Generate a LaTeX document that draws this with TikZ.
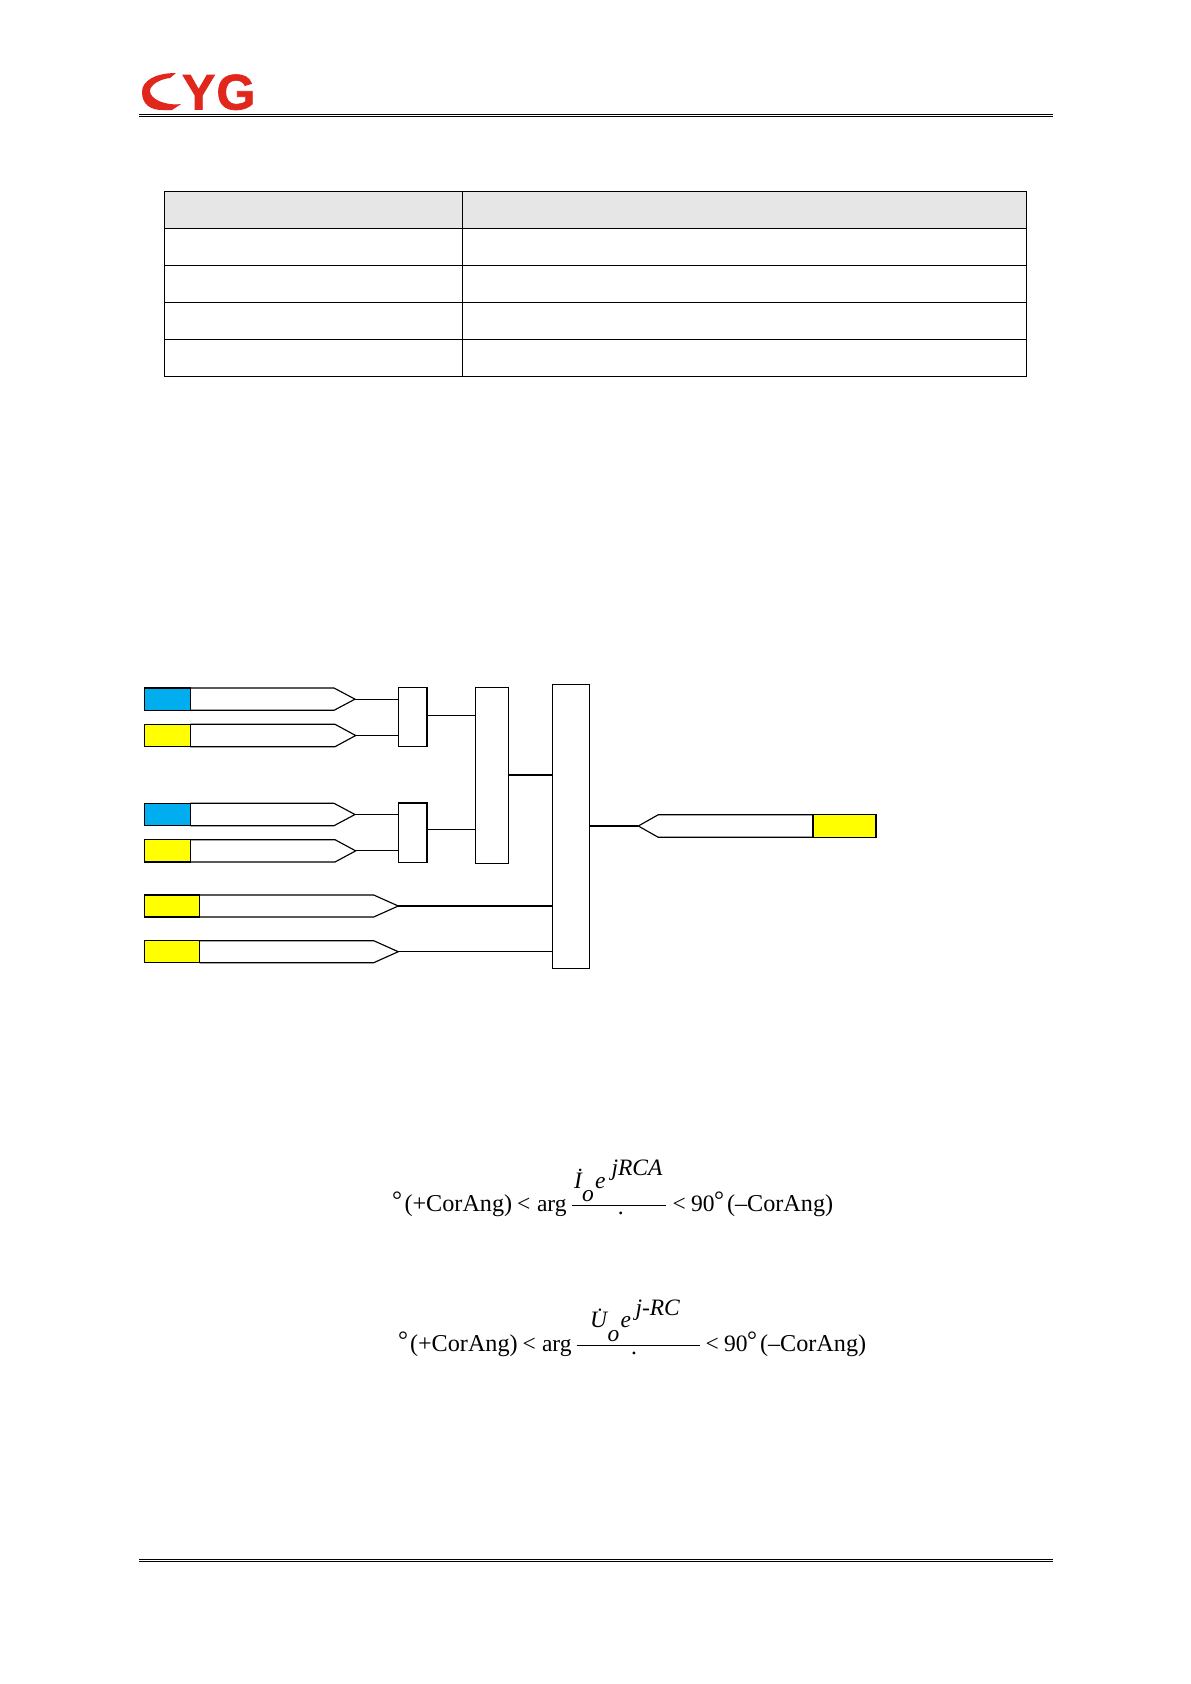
\documentclass[tikz,border=0pt]{standalone}
\usepackage{fontspec}
\setmainfont{Liberation Serif}
\newfontfamily\logofont[BoldFeatures={FakeBold=1.5}]{Liberation Sans}
\definecolor{cygred}{HTML}{E1271C}
\definecolor{cygblue}{HTML}{00AEEF}
\definecolor{cygyellow}{HTML}{FFFF00}
\definecolor{headgray}{HTML}{E6E6E6}
\tikzset{
  ln/.style={line width=1.15pt,draw=black},
  colbox/.style={ln,inner sep=0pt,outer sep=0pt,anchor=north west},
  gatebox/.style={ln,fill=white,inner sep=0pt,outer sep=0pt,anchor=north west},
  frm/.style={inner sep=0pt,outer sep=0pt,anchor=base west,font=\fontsize{23.5}{28}\selectfont},
  frmb/.style={inner sep=0pt,outer sep=0pt,anchor=base west,font=\fontsize{24.2}{28}\selectfont},
  deg/.style={inner sep=0pt,outer sep=0pt,anchor=base west,font=\fontsize{25}{28}\selectfont},
  frmc/.style={inner sep=0pt,outer sep=0pt,anchor=base,font=\fontsize{23.5}{28}\selectfont},
  logo/.style={inner sep=0pt,outer sep=0pt,anchor=base west,text=cygred,font=\logofont\bfseries\fontsize{50}{50}\selectfont}
}
% name, colour, x-left, x-colour-end, x-shaft-end, x-tip, y-top, y-bottom
\newcommand{\sigright}[8]{%
  \pgfmathsetmacro{\hw}{#4-#3}\pgfmathsetmacro{\hh}{#8-#7}\pgfmathsetmacro{\ym}{(#7+#8)/2}%
  \draw[ln,fill=white] (#4,#7) -- (#5,#7) -- (#6,\ym) -- (#5,#8) -- (#4,#8);
  \coordinate (#1tip) at (#6,\ym);
  \node[colbox,fill=#2,minimum width=\hw pt,minimum height=\hh pt] (#1) at (#3,#7) {};
}
\newcommand{\gate}[5]{%
  \pgfmathsetmacro{\hw}{#3-#2}\pgfmathsetmacro{\hh}{#5-#4}%
  \node[gatebox,minimum width=\hw pt,minimum height=\hh pt] (#1) at (#2,#4) {};
}
\begin{document}
\begin{tikzpicture}[x=1pt,y=-1pt]
\useasboundingbox[fill=white] (0,0) rectangle (1191,1684);
% logo
\fill[cygred] (176,73) .. controls (155,73) and (142,81) .. (142,92)
  .. controls (142,104) and (150,110) .. (162,110)
  -- (172,110) -- (181,104)
  .. controls (165,106) and (150,99) .. (150,91)
  .. controls (150,85) and (160,79) .. (170,78) -- cycle;
\node[logo] (logoy) at (182,109.5) {Y};
\node[logo] (logog) at (216.5,109.5) {G};
% header and footer rules
\draw[line width=1.3pt] (139,114.7) -- (1052.5,114.7);
\draw[line width=1.2pt] (139,116.7) -- (1052.5,116.7);
\draw[line width=1.3pt] (139,1559.4) -- (1052.5,1559.4);
\draw[line width=1.3pt] (139,1561.4) -- (1052.5,1561.4);
% table
\fill[headgray] (164.3,191.3) rectangle (1026.7,228.5);
\draw[ln] (164.3,191.3) rectangle (1026.7,376.2);
\draw[ln] (164.3,228.5) -- (1026.7,228.5);
\draw[ln] (164.3,265.4) -- (1026.7,265.4);
\draw[ln] (164.3,302.6) -- (1026.7,302.6);
\draw[ln] (164.3,339.5) -- (1026.7,339.5);
\draw[ln] (462.6,191.3) -- (462.6,376.2);
% signals
\sigright{s1}{cygblue}{144.7}{190.3}{334}{355}{688}{710.3}
\sigright{s2}{cygyellow}{144.7}{190.3}{335}{355.7}{724.3}{746.7}
\sigright{s3}{cygblue}{144.7}{190.3}{334}{355}{803.3}{825.7}
\sigright{s4}{cygyellow}{144.7}{190.3}{335}{355.7}{839.7}{862}
\sigright{s5}{cygyellow}{144.7}{199.7}{373.7}{398.3}{895}{917}
\sigright{s6}{cygyellow}{144.7}{199.7}{373.7}{398.3}{940.7}{962.7}
% gates
\gate{andA}{398.3}{427}{687.7}{746.7}
\gate{andB}{398.3}{427}{803}{862.3}
\gate{orA}{475.3}{508.3}{687.3}{863.3}
\gate{big}{552.7}{589.7}{684.7}{968.3}
% junction points on gate sides
\coordinate (a1) at (427,715.7);
\coordinate (a2) at (427,829.3);
\coordinate (o1) at (508.3,775);
\coordinate (b1) at (589.7,826);
% output
\coordinate (outtip) at (638.3,826);
\draw[ln,fill=white] (813,814.7) -- (658.3,814.7) -- (outtip) -- (658.3,837.3) -- (813,837.3);
\node[colbox,fill=cygyellow,minimum width=63pt,minimum height=22.6pt] (outy) at (813,814.7) {};
% connectors
\draw[ln] (s1tip) -- (andA.west |- s1tip);
\draw[ln] (s2tip) -- (andA.west |- s2tip);
\draw[ln] (s3tip) -- (andB.west |- s3tip);
\draw[ln] (s4tip) -- (andB.west |- s4tip);
\draw[ln] (a1) -- (orA.west |- a1);
\draw[ln] (a2) -- (orA.west |- a2);
\draw[ln] (o1) -- (big.west |- o1);
\draw[ln] (s5tip) -- (big.west |- s5tip);
\draw[ln] (s6tip) -- (big.west |- s6tip);
\draw[ln] (b1) -- (outtip);
% formula 1
\node[deg] (f1deg) at (392,1208.5) {\textdegree};
\node[frmb] (f1a) at (404.5,1211) {(+CorAng)};
\node[frm] (f1b) at (517,1211) {<};
\node[frm] (f1c) at (537,1211) {arg};
\coordinate (f1l) at (571.7,1205.3);
\coordinate (f1r) at (666,1205.3);
\draw[line width=0.9pt] (f1l) -- (f1r);
\node[frm] (f1i) at (574,1188) {\itshape \.I};
\node[frm] (f1o) at (582,1201.7) {\itshape o};
\node[frm] (f1e) at (595,1188) {\itshape e};
\node[frm] (f1s) at (611.5,1175) {\itshape jRCA};
\node[frmc] (f1dot) at (620.7,1214) {.};
\node[frm] (f1d) at (672.5,1211) {<};
\node[frm] (f1f) at (691,1211) {90};
\node[deg] (f1g) at (714,1208.5) {\textdegree};
\node[frmb] (f1h) at (727,1211) {(–CorAng)};
% formula 2
\node[deg] (f2deg) at (398,1348.5) {\textdegree};
\node[frmb] (f2a) at (410,1351) {(+CorAng)};
\node[frm] (f2b) at (522.5,1351) {<};
\node[frm] (f2c) at (542,1351) {arg};
\coordinate (f2l) at (576.7,1345.3);
\coordinate (f2r) at (700,1345.3);
\draw[line width=0.9pt] (f2l) -- (f2r);
\node[frm] (f2i) at (590,1327.7) {\itshape \.U};
\node[frm] (f2o) at (607.5,1341.7) {\itshape o};
\node[frm] (f2e) at (620.5,1327.7) {\itshape e};
\node[frm] (f2s) at (635.5,1315) {\itshape j-RC};
\node[frmc] (f2dot) at (634,1354) {.};
\node[frm] (f2d) at (705.5,1351) {<};
\node[frm] (f2f) at (724,1351) {90};
\node[deg] (f2g) at (747,1348.5) {\textdegree};
\node[frmb] (f2h) at (760,1351) {(–CorAng)};
\end{tikzpicture}
\end{document}
